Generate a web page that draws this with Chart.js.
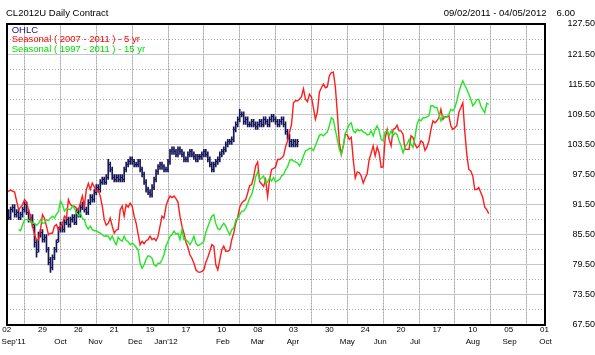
<!DOCTYPE html>
<html><head><meta charset="utf-8">
<script src="https://cdn.jsdelivr.net/npm/chart.js@4/dist/chart.umd.min.js"></script>
<style>html,body{margin:0;padding:0;background:#fff;overflow:hidden}</style>
</head><body>
<canvas id="c" width="595" height="355"></canvas>
<script>
// ---------- texts ----------
const chartTitle = 'CL2012U Daily Contract';
const dateRange = '09/02/2011 - 04/05/2012';
const headerValue = '6.00';
const legendLabels = ['OHLC', 'Seasonal ( 2007 - 2011 ) - 5 yr', 'Seasonal ( 1997 - 2011 ) - 15 yr'];

// ---------- x axis (trading-day index) ----------
const dayTickPos = [0,18,36,54,72,90,108,126,144,162,180,198,216,234,252,270];
const dayTickLabels = ['02','29','26','21','19','17','10','08','03','30','24','20','17','10','05','01'];
const dayMinorPos = [9,27,45,63,81,99,117,135,153,171,189,207,225,243,261];
const monthLabels = ["Sep'11",'Oct','Nov','Dec',"Jan'12",'Feb','Mar','Apr','May','Jun','Jul','Aug','Sep','Oct'];
const monthPos = [3.5,27,44.5,64.5,80,108.5,126,143.7,171,187.5,205,234,252.5,270.5];

// ---------- y axis ----------
const yTicks = [67.5,73.5,79.5,85.5,91.5,97.5,103.5,109.5,115.5,121.5,127.5];
const yMinor = [70.5,76.5,82.5,88.5,94.5,100.5,106.5,112.5,118.5,124.5];

// ---------- OHLC (daily, from 09/02/2011) ----------
const ohlcOpen = [89.5,90.0,89.0,90.5,91.0,89.5,90.0,89.0,89.5,90.5, 91.5,90.0,88.5,89.0,87.0,84.0,82.5,85.5,86.0,84.5,
 85.0,82.5,80.5,79.0,81.0,82.5,84.5,86.5,87.5,86.5, 88.0,88.5,87.5,88.5,89.0,88.0,90.0,89.5,91.0,91.5,
 90.5,90.0,92.0,93.0,92.5,94.0,95.0,94.5,96.0,96.5, 96.0,97.0,99.5,98.5,97.0,96.5,97.0,96.5,97.0,96.5,
 98.5,99.5,100.0,100.5,100.0,99.5,99.5,100.0,98.5,97.5, 96.0,94.5,94.0,93.5,95.0,96.5,98.0,99.0,99.5,99.0,
 98.5,98.5,100.0,102.0,102.5,102.0,101.5,102.5,102.0,101.5, 100.5,100.5,101.5,102.0,101.5,101.0,100.5,101.0,101.0,101.5,
 102.0,101.5,100.5,99.5,98.5,99.5,100.0,100.5,101.5,102.0, 102.5,103.5,104.0,104.0,104.5,106.5,107.5,108.5,109.5,109.5,
 108.0,108.5,107.5,107.5,108.0,107.5,107.0,107.5,108.0,107.5, 108.5,108.0,107.5,108.5,109.0,108.5,108.0,107.5,108.0,108.5,
 107.5,106.0,105.0,104.0,103.5,104.0,103.5];
const ohlcHigh = [90.5,90.5,91.0,91.5,91.5,90.5,90.5,90.0,91.0,92.0, 92.0,90.5,89.5,89.5,87.5,84.5,86.0,86.5,86.5,85.5,
 85.5,83.0,81.0,81.5,83.0,84.5,87.0,88.0,88.0,88.5, 89.0,89.0,89.0,89.5,89.5,90.5,90.5,91.5,92.0,92.0,
 91.0,92.5,93.5,93.5,94.5,95.5,95.5,96.5,97.0,97.0, 97.5,100.5,100.0,99.0,97.5,97.5,97.5,97.5,97.5,99.0,
 100.0,100.5,101.0,101.0,100.5,100.0,100.5,100.5,99.0,98.0, 96.5,95.0,94.5,95.5,97.0,98.5,99.5,100.0,100.0,99.5,
 99.0,100.5,102.5,103.0,103.0,102.5,103.0,103.0,102.5,102.0, 101.0,102.0,102.5,102.5,102.0,101.5,101.5,101.5,102.0,102.5,
 102.5,102.0,101.0,100.0,100.0,100.5,101.0,102.0,102.5,103.0, 104.0,104.5,104.5,105.0,107.0,108.0,109.0,110.5,110.0,110.0,
 109.0,109.0,108.0,108.5,108.5,108.0,108.0,108.5,108.5,109.0, 109.0,108.5,109.0,109.5,109.5,109.0,108.5,108.5,109.0,109.0,
 108.0,106.5,105.5,104.5,104.5,104.5,104.5];
const ohlcLow = [89.0,88.5,88.5,90.0,89.0,89.0,88.5,88.5,89.0,90.0, 89.5,88.0,88.0,87.0,83.0,81.0,82.0,85.0,84.0,84.0,
 82.0,79.5,78.0,78.5,80.5,82.0,84.0,86.0,86.0,86.0, 87.5,87.0,87.0,88.0,87.5,87.5,89.0,89.0,90.5,90.0,
 89.5,89.5,91.5,92.0,92.0,93.5,94.0,94.0,95.5,95.5, 95.5,96.5,98.0,96.5,96.0,96.0,96.0,96.0,96.0,96.0,
 98.0,99.0,99.5,99.5,99.0,99.0,99.0,98.0,97.0,95.5, 94.0,93.5,93.0,93.0,94.5,96.0,97.5,98.5,98.5,98.0,
 98.0,98.0,99.5,101.5,101.5,101.0,101.0,101.5,101.0,100.0, 100.0,100.0,101.0,101.0,100.5,100.0,100.0,100.5,100.5,101.0,
 101.0,100.0,99.0,98.0,98.0,99.0,99.5,100.0,101.0,101.5, 102.0,103.0,103.5,103.5,104.0,106.0,107.0,108.0,109.0,107.5,
 107.5,107.0,107.0,107.0,107.0,106.5,106.5,107.0,107.0,107.0, 107.5,107.0,107.0,108.0,108.0,107.5,107.0,107.0,107.5,107.0,
 105.5,104.5,103.0,103.0,103.0,103.0,103.0];
const ohlcClose = [90.0,89.0,90.5,91.0,89.5,90.0,89.0,89.5,90.5,91.5, 90.0,88.5,89.0,87.5,84.0,82.0,85.5,86.0,84.5,85.0,
 82.5,80.0,79.0,81.0,82.5,84.0,86.5,87.5,86.5,88.0, 88.5,87.5,88.5,89.0,88.0,90.0,89.5,91.0,91.5,90.5,
 90.0,92.0,93.0,92.5,94.0,95.0,94.5,96.0,96.5,96.0, 97.0,99.5,98.5,97.0,96.5,97.0,96.5,97.0,96.5,98.5,
 99.5,100.0,100.5,100.0,99.5,99.5,100.0,98.5,97.5,96.0, 94.5,94.0,93.5,95.0,96.5,98.0,99.0,99.5,99.0,98.5,
 98.5,100.0,102.0,102.5,102.0,101.5,102.5,102.0,101.5,100.5, 100.5,101.5,102.0,101.5,101.0,100.5,101.0,101.0,101.5,102.0,
 101.5,100.5,99.5,98.5,99.5,100.0,100.5,101.5,102.0,102.5, 103.5,104.0,104.0,104.5,106.5,107.5,108.5,109.5,109.5,108.0,
 108.5,107.5,107.5,108.0,107.5,107.0,107.5,108.0,107.5,108.5, 108.0,107.5,108.5,109.0,108.5,108.0,107.5,108.0,108.5,107.5,
 106.0,105.0,104.0,103.5,104.0,103.5,104.0];

// ---------- Seasonal ( 2007 - 2011 ) - 5 yr, from index 0 ----------
const seasonal5Start = 0;
const seasonal5 = [93.9,94.2,94.4,94.2,94.0,92.2,90.5,91.0,91.5,92.5,
 92.0,90.4,89.2,87.2,85.5,84.5,84.5,86.5,89.5,88.8,
 87.2,85.5,85.8,85.8,87.2,87.5,86.5,87.3,87.5,89.2,
 88.8,92.5,91.5,91.2,91.2,90.8,90.5,91.8,93.2,91.2,
 94.5,95.7,94.5,95.8,95.0,94.2,94.3,93.2,91.2,88.5,
 87.4,87.8,88.8,87.2,85.8,86.4,86.6,90.5,91.2,89.2,
 91.5,91.0,91.8,91.2,89.2,87.8,85.6,83.5,84.2,83.7,
 84.3,84.5,85.2,84.5,84.8,84.3,85.2,87.2,89.2,88.8,
 91.2,92.4,93.2,92.9,93.2,92.7,92.0,89.2,87.2,85.8,
 84.0,83.0,81.5,80.8,79.8,78.5,78.1,78.0,78.2,78.5,
 80.0,81.0,82.2,83.5,83.2,79.5,78.5,80.5,82.5,83.2,
 82.2,82.2,82.5,84.5,85.8,87.8,89.0,91.0,91.8,92.2,
 92.5,93.8,95.3,95.5,97.0,99.2,100.0,96.1,95.6,95.1,
 96.5,93.1,96.5,98.5,98.7,99.0,100.5,100.5,100.8,101.2,
 103.0,104.2,105.9,107.5,111.8,112.2,112.2,112.5,113.0,114.6,
 112.5,112.0,113.5,113.0,110.8,108.5,110.0,113.9,114.8,115.5,
 114.8,115.0,117.2,117.8,117.9,115.0,109.8,103.9,101.5,103.2,
 105.5,105.4,104.5,104.9,100.5,96.8,98.0,97.9,97.2,95.8,
 96.8,97.7,100.5,101.8,103.2,101.2,103.0,101.8,98.9,99.0,
 104.7,106.5,104.5,103.2,106.5,106.7,107.3,106.2,106.2,105.5,
 102.5,102.5,102.5,105.2,104.9,103.5,102.8,103.2,104.2,103.9,
 102.3,103.0,104.2,106.5,108.2,107.8,108.2,108.8,110.5,108.5,
 109.0,109.0,109.2,107.2,106.5,106.8,107.3,109.9,110.8,111.8,
 106.0,101.5,98.5,98.2,97.2,94.5,94.5,94.9,93.9,92.9,
 91.0,90.5,89.7];

// ---------- Seasonal ( 1997 - 2011 ) - 15 yr, from index 6 ----------
const seasonal15Start = 6;
const seasonal15 = [86.5,86.3,87.5,88.5,88.5,88.4,88.2,87.8,87.8,87.4,
 87.7,88.5,87.8,87.8,88.5,88.3,88.8,89.2,88.8,89.6,
 90.1,92.2,91.5,90.2,90.7,90.6,90.5,91.2,90.8,89.9,
 89.3,89.8,88.8,88.5,87.2,86.6,87.2,86.5,86.3,86.3,
 86.0,85.8,85.5,85.2,85.3,85.2,84.5,85.2,84.2,83.5,
 85.0,84.5,84.2,85.2,84.4,84.1,83.5,83.8,83.5,83.0,
 82.5,79.8,78.8,79.5,80.6,81.3,81.2,80.8,79.5,79.2,
 79.8,79.8,80.5,81.5,83.3,84.2,85.2,85.5,86.2,85.6,
 85.8,84.5,86.5,84.5,84.5,84.1,83.5,84.2,85.2,83.8,
 83.3,83.5,83.8,84.2,86.0,87.1,88.2,89.2,89.5,87.7,
 86.7,86.5,87.2,87.8,87.2,86.3,85.5,86.5,86.8,88.3,
 88.8,89.5,90.2,90.2,90.8,91.7,92.8,93.5,95.0,97.0,
 98.0,96.5,96.8,97.2,95.8,96.0,96.9,96.2,96.9,96.0,
 96.3,96.5,97.2,97.5,98.4,99.0,100.2,100.5,100.2,100.0,
 99.8,99.2,100.0,101.2,102.2,102.4,102.7,102.7,102.3,103.3,
 104.3,105.3,105.5,105.2,105.6,106.0,107.2,108.8,108.5,106.4,
 104.5,102.5,101.5,103.2,105.7,106.5,107.5,107.8,106.2,105.8,
 106.5,106.2,106.4,106.0,105.8,105.4,105.5,106.2,105.2,106.5,
 107.2,106.2,104.5,104.2,106.0,106.2,105.2,106.2,105.2,105.8,
 105.5,104.2,103.2,101.8,103.0,103.5,104.5,103.5,102.9,105.0,
 107.5,108.5,108.2,108.8,108.8,109.0,109.2,111.2,111.2,110.8,
 110.9,109.5,108.2,109.2,108.9,108.9,109.5,110.5,110.2,110.8,
 112.2,113.9,115.2,116.2,115.3,114.5,113.5,112.5,111.2,111.7,
 112.4,112.5,111.2,110.5,109.8,111.7,111.5];

// ---------- styles ----------
const FONT = '"Liberation Sans", Arial, Helvetica, sans-serif';
const NAVY = '#16165a';
const RED = '#ff1c1c';
const GREEN = '#22e622';
const legendColors = ['#10107a', '#ff0000', '#00dd00'];
const MAJOR_GRID = '#c6c6c6';
const MINOR_GRID = '#a9a9a9';

function tickImage(side) {
  const c = document.createElement('canvas');
  c.width = 3; c.height = 1;
  const g = c.getContext('2d');
  g.fillStyle = NAVY;
  g.fillRect(side < 0 ? 0 : 2, 0, 1, 1);
  return c;
}

const hiloData = ohlcHigh.map((h, i) => ({x: i, y: [ohlcLow[i], h]}));
const openData = ohlcOpen.map((v, i) => ({x: i, y: v}));
const closeData = ohlcClose.map((v, i) => ({x: i, y: v}));
const s5Data = seasonal5.map((v, k) => ({x: seasonal5Start + k, y: v}));
const s15Data = seasonal15.map((v, k) => ({x: seasonal15Start + k, y: v}));

const framePlugin = {
  id: 'frameAndHeader',
  afterDraw(chart) {
    const ctx = chart.ctx, a = chart.chartArea;
    ctx.save();
    ctx.strokeStyle = '#000';
    ctx.lineWidth = 2;
    ctx.strokeRect(Math.round(a.left), Math.round(a.top), Math.round(a.right - a.left), Math.round(a.bottom - a.top));
    ctx.font = '9.5px ' + FONT;
    ctx.textBaseline = 'middle';
    ctx.fillStyle = '#000';
    ctx.textAlign = 'left';
    ctx.fillText(chartTitle, 6, 13);
    ctx.textAlign = 'right';
    ctx.fillText(dateRange, a.right + 2, 13);
    ctx.fillText(headerValue, chart.width - 20, 13);
    ctx.textAlign = 'left';
    legendLabels.forEach((t, k) => {
      ctx.fillStyle = legendColors[k];
      ctx.fillText(t, a.left + 5, a.top + 6.5 + k * 9.3);
    });
    ctx.restore();
  }
};

new Chart(document.getElementById('c'), {
  type: 'line',
  data: {
    datasets: [
      {type: 'bar', data: hiloData, xAxisID: 'x', yAxisID: 'y', backgroundColor: NAVY,
       borderWidth: 0, barThickness: 1, order: 3},
      {type: 'scatter', data: openData, xAxisID: 'x', yAxisID: 'y', pointStyle: tickImage(-1),
       pointRadius: 1, showLine: false, order: 3},
      {type: 'scatter', data: closeData, xAxisID: 'x', yAxisID: 'y', pointStyle: tickImage(1),
       pointRadius: 1, showLine: false, order: 3},
      {type: 'line', data: s5Data, xAxisID: 'x', yAxisID: 'y', borderColor: RED, borderWidth: 1.4,
       pointRadius: 0, tension: 0, fill: false, order: 2},
      {type: 'line', data: s15Data, xAxisID: 'x', yAxisID: 'y', borderColor: GREEN, borderWidth: 1.4,
       pointRadius: 0, tension: 0, fill: false, order: 1}
    ]
  },
  options: {
    responsive: false,
    animation: false,
    devicePixelRatio: 1,
    layout: {padding: {left: 4.5, right: 0, top: 24, bottom: 0}},
    plugins: {legend: {display: false}, tooltip: {enabled: false}, title: {display: false}},
    scales: {
      x: {
        axis: 'x', type: 'linear', position: 'bottom', min: 0, max: 270, offset: false, weight: 0,
        afterBuildTicks: s => { s.ticks = dayTickPos.map(v => ({value: v})); },
        afterFit: s => { s.height = 10; },
        ticks: {autoSkip: false, maxRotation: 0, minRotation: 0, padding: 0, color: '#000',
                font: {family: FONT, size: 8}, callback: (v, i) => dayTickLabels[i]},
        grid: {color: MAJOR_GRID, lineWidth: 1, drawTicks: false},
        border: {display: false}
      },
      xm: {
        axis: 'x', type: 'linear', position: 'bottom', min: 0, max: 270, offset: false, weight: 1,
        afterBuildTicks: s => { s.ticks = monthPos.map(v => ({value: v})); },
        afterFit: s => { s.height = 20; },
        ticks: {autoSkip: false, maxRotation: 0, minRotation: 0, padding: 1.5, color: '#000',
                font: {family: FONT, size: 8}, callback: (v, i) => monthLabels[i]},
        grid: {display: false, drawTicks: false},
        border: {display: false}
      },
      xg: {
        axis: 'x', type: 'linear', position: 'top', min: 0, max: 270, offset: false,
        afterBuildTicks: s => { s.ticks = dayMinorPos.map(v => ({value: v})); },
        afterFit: s => { s.height = 0; },
        ticks: {display: false},
        grid: {color: MINOR_GRID, lineWidth: 1, drawTicks: false},
        border: {display: false, dash: [1, 2]}
      },
      y: {
        axis: 'y', type: 'linear', position: 'right', min: 67.5, max: 127.5,
        afterBuildTicks: s => { s.ticks = yTicks.map(v => ({value: v})); },
        afterFit: s => { s.width = 50.5; },
        ticks: {crossAlign: 'far', padding: 1.5, color: '#000', font: {family: FONT, size: 9},
                callback: v => Number(v).toFixed(2)},
        grid: {color: MAJOR_GRID, lineWidth: 1, drawTicks: false},
        border: {display: false}
      },
      yg: {
        axis: 'y', type: 'linear', position: 'left', min: 67.5, max: 127.5,
        afterBuildTicks: s => { s.ticks = yMinor.map(v => ({value: v})); },
        afterFit: s => { s.width = 0; },
        ticks: {display: false},
        grid: {color: MINOR_GRID, lineWidth: 1, drawTicks: false},
        border: {display: false, dash: [1, 2]}
      }
    }
  },
  plugins: [framePlugin]
});
</script>
</body></html>
